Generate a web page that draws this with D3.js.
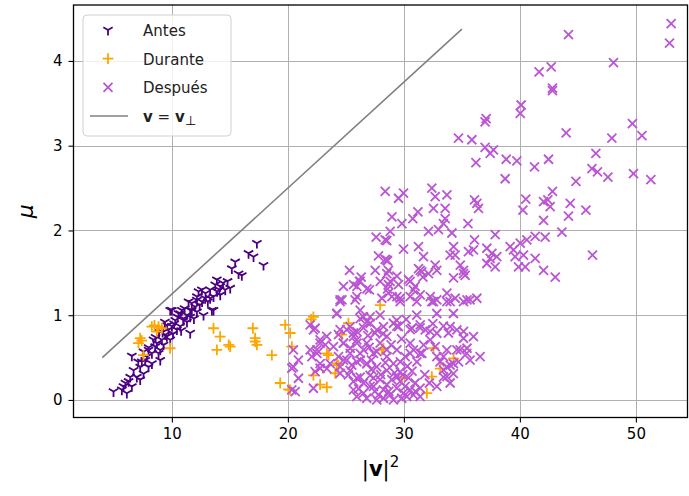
<!DOCTYPE html>
<html>
<head>
<meta charset="utf-8">
<script src="https://cdn.jsdelivr.net/npm/d3@7/dist/d3.min.js"></script>
<style>
  body { margin: 0; background: #fff; }
  svg { display: block; font-family: "DejaVu Sans", sans-serif; }
</style>
</head>
<body>
<svg id="chart" width="689" height="496"></svg>
<script>
// values, [|v|^2, mu]
const antes = [
  [4.97,0.10],[5.83,0.16],[6.12,0.08],[5.69,0.12],[6.41,0.27],[6.27,0.22],[6.55,0.16],[6.55,0.52],
  [6.7,0.35],[6.98,0.27],[7.27,0.39],[7.27,0.24],[7.56,0.31],[7.41,0.45],[7.7,0.47],[7.84,0.51],
  [7.56,0.57],[7.99,0.59],[7.99,0.39],[8.28,0.55],[8.28,0.43],[8.42,0.71],[8.56,0.63],[8.71,0.67],
  [8.85,0.55],[9.0,0.59],[9.0,0.47],[9.14,0.71],[9.28,0.65],[9.43,0.77],[9.57,0.75],[9.71,0.83],
  [9.86,0.71],[10.0,0.87],[10.0,1.06],[9.86,1.06],[10.29,0.94],[10.43,0.83],[10.57,1.02],[10.72,0.87],
  [10.72,1.02],[10.86,1.06],[11.0,0.96],[11.0,0.94],[11.29,1.0],[11.44,1.16],[11.58,0.79],[11.58,0.98],
  [11.58,1.06],[11.72,1.06],[11.72,1.14],[12.01,1.1],[12.16,1.22],[12.16,1.18],[12.16,1.04],[12.3,1.28],
  [12.59,1.30],[12.73,1.0],[12.87,1.2],[13.3,1.30],[13.45,1.06],[13.59,1.22],[13.59,1.06],[13.74,1.36],
  [13.88,1.42],[14.17,1.34],[14.17,1.24],[14.6,1.30],[15.03,1.32],[15.17,1.55],[15.46,1.63],[15.75,1.49],
  [16.03,1.47],[16.61,1.73],[17.04,1.69],[17.33,1.85],[17.9,1.59],
  [8.0,0.62],[8.6,0.74],[9.2,0.8],[9.6,0.88],[10.2,0.9],[10.5,0.98],[11.1,1.08],[11.3,0.92],
  [12.4,1.12],[12.9,1.26],[13.1,1.16],[13.9,1.28],[14.4,1.38],[14.8,1.4],[10.1,0.78],[8.9,0.8],
  [7.1,0.45],[6.0,0.2],[9.4,0.92],[10.8,0.82],[12.6,1.16],[13.3,1.2],[14.1,1.3],[11.9,0.96]
];

const durante = [
  [8.27,0.865],[8.85,0.865],[9.14,0.846],[8.7,0.806],[8.5,0.88],[7.27,0.73],[7.12,0.67],[7.4,0.7],
  [7.55,0.53],[9.85,0.61],[13.59,0.846],[14.16,0.747],[13.88,0.59],[14.9,0.65],[15.03,0.63],[16.98,0.846],
  [17.18,0.73],[17.18,0.69],[17.33,0.65],[18.62,0.53],[19.34,0.20],[19.77,0.885],[20.2,0.79],[20.34,0.63],
  [22.2,0.98],[23.36,0.55],[22.2,0.29],[20.05,0.126],[22.78,0.18],[23.36,0.15],[25.22,0.905],[20.2,0.118],
  [23.5,0.53],[24.36,0.41],[27.96,1.12],[28.24,0.61],[32.55,0.61],[34.28,0.49],[33.13,0.37],[32.41,0.275],
  [29.83,0.256],[31.98,0.08],[24.65,0.77],[24.22,0.43],[24.08,0.315],[28.1,0.59],[22.0,0.95]
];

const despues = [
  // upper region
  [53.04,4.44],[52.9,4.21],[44.19,4.31],[48.07,3.98],[41.66,3.87],[42.7,3.93],[42.81,3.68],[42.81,3.65],
  [40.11,3.48],[40.03,3.38],[37.09,3.32],[37.0,3.28],[43.99,3.15],[47.93,3.09],[49.7,3.26],[50.52,3.12],
  [34.71,3.09],[35.86,3.07],[37.0,2.98],[37.72,2.95],[37.44,2.91],[36.21,2.80],[38.82,2.84],[39.74,2.82],
  [41.26,2.75],[42.47,2.84],[38.73,2.61],[46.55,2.91],[46.21,2.73],[46.69,2.69],[47.59,2.63],[49.79,2.67],
  [51.29,2.60],[44.83,2.58],[42.81,2.46],[44.34,2.32],[45.69,2.24],[44.19,2.17],[43.62,1.98],[46.26,1.71],
  [42.04,2.12],[40.51,2.37],[40.26,2.24],[42.04,2.34],[42.41,2.36],[42.61,2.28],[28.39,2.46],[29.54,2.38],
  [29.97,2.44],[28.97,2.16],[29.83,2.08],[28.82,1.99],[28.39,1.89],[32.41,2.50],[32.7,2.40],[33.71,2.42],
  [32.55,2.26],[33.56,2.26],[33.56,2.14],[33.41,2.08],[31.21,2.22],[30.77,2.14],[32.12,1.99],[32.98,2.01],
  [34.14,1.97],[35.52,2.08],[36.09,2.36],[36.43,2.26],[36.29,2.32],[36.09,1.89],[37.87,1.95],[29.97,1.78],
  [31.26,1.81],[31.69,1.69],[34.28,1.81],[34.42,1.71],[35.57,1.75],[36.0,1.77],[37.15,1.79],[37.59,1.73],
  [38.01,1.69],[37.44,1.67],[39.16,1.81],[39.45,1.77],[40.03,1.85],[40.6,1.89],[41.32,1.93],[42.18,1.92],
  [39.59,1.69],[40.31,1.71],[41.32,1.67],[39.88,1.57],[40.46,1.57],[42.04,1.53],[43.05,1.45],[34.86,1.59],
  [35.14,1.53],[32.7,1.59],[32.84,1.53],[31.26,1.55],[31.55,1.51],[28.53,1.65],[28.67,1.53],[37.15,1.61],
  [37.87,1.57],
  // middle region
  [27.61,1.92],[28.53,1.88],[27.81,1.70],[28.59,1.64],[28.39,1.66],[25.31,1.53],[27.53,1.53],[28.53,1.49],
  [29.4,1.46],[26.32,1.45],[26.17,1.40],[25.66,1.36],[26.81,1.31],[24.79,1.34],[24.66,1.18],[25.95,1.22],
  [25.8,1.18],[27.03,1.30],[27.96,1.40],[28.67,1.36],[28.59,1.31],[30.54,1.40],[30.97,1.34],[31.41,1.53],
  [31.64,1.45],[32.12,1.49],[35.28,1.47],[28.1,1.20],[28.97,1.22],[29.68,1.20],[30.54,1.22],[31.41,1.24],
  [32.41,1.16],[33.71,1.26],[34.42,1.20],[35.44,1.18],[36.29,1.20],
  // lower cluster
  [26.23,1.40],[25.95,1.34],[24.5,1.18],[28.82,1.40],[29.54,1.36],[28.67,1.26],[29.4,1.22],[30.4,1.42],
  [30.82,1.30],[33.99,1.71],[35.14,1.49],[34.28,1.44],[32.27,1.22],[32.84,1.18],[33.99,1.16],[35.71,1.18],
  [24.22,1.02],[26.23,1.06],[26.52,0.98],[26.81,0.92],[21.92,0.885],[22.35,0.846],[24.5,0.83],[24.36,0.77],
  [25.37,0.865],[25.95,0.806],[25.66,0.747],[27.1,0.905],[27.67,0.826],[28.24,0.865],[29.1,0.905],[29.54,0.865],
  [30.69,0.846],[31.41,0.885],[31.84,0.826],[32.84,0.787],[33.99,0.865],[34.57,0.826],[35.14,0.728],[36.0,0.747],
  [32.27,0.708],[32.7,0.63],[24.79,0.67],[25.37,0.61],[25.95,0.67],[26.52,0.59],[22.78,0.708],[23.22,0.649],
  [22.5,0.59],[20.48,0.59],[22.07,0.51],[20.91,0.47],[21.92,0.59],[22.78,0.43],[23.36,0.37],[20.48,0.39],
  [20.91,0.256],[20.34,0.118],[24.36,0.51],[25.08,0.47],[25.51,0.41],[26.23,0.47],[26.81,0.43],[24.5,0.315],
  [25.22,0.295],[25.95,0.256],[27.67,0.57],[28.53,0.51],[29.4,0.59],[30.11,0.51],[30.82,0.59],[31.55,0.55],
  [31.12,0.45],[33.41,0.51],[33.99,0.41],[34.71,0.45],[35.71,0.47],[36.57,0.51],[34.57,0.59],[35.44,0.61],
  [33.41,0.354],[33.71,0.275],
  [24.5,1.16],[29.68,1.16],[31.11,1.16],[32.55,1.16],[33.7,1.16],[35.14,1.16],
  [24.22,1.02],[26.23,0.96],[27.09,0.98],[27.95,1.0],[29.39,0.94],[31.11,1.0],[32.84,1.02],[34.27,1.02],
  [23.35,0.75],[25.08,0.83],[25.65,0.79],[26.52,0.85],[27.52,0.79],[28.53,0.75],[29.39,0.87],[30.54,0.83],
  [31.4,0.85],[32.26,0.81],[33.41,0.87],[33.84,0.79],[35.14,0.81],
  [23.93,0.63],[24.79,0.67],[25.94,0.71],[26.8,0.67],[27.95,0.67],[28.53,0.59],[27.38,0.55],[26.23,0.55],
  [25.37,0.55],[24.79,0.47],[30.54,0.67],[31.4,0.55],[30.54,0.55],[32.84,0.51],[33.7,0.59],[34.85,0.59],
  [35.42,0.55],
  [23.64,0.43],[24.5,0.39],[25.37,0.35],[25.94,0.45],[26.8,0.43],[27.66,0.39],[28.53,0.35],[29.1,0.43],
  [29.68,0.33],[26.23,0.27],[27.09,0.29],[27.95,0.24],[25.65,0.22],[33.12,0.45],[33.7,0.39],[34.27,0.43],
  [33.41,0.27],[34.27,0.31],[32.84,0.16],[33.99,0.2],
  [25.65,0.12],[26.52,0.08],[27.38,0.16],[28.24,0.12],[28.81,0.06],[29.39,0.14],[29.96,0.08],[30.54,0.12],
  [31.4,0.14],[26.8,0.02],[27.66,0.0],[29.1,0.0],[30.25,0.04],[31.4,0.04],[25.94,0.04],
  [27.09,0.16],[27.81,0.06],[28.53,0.18],[28.96,0.24],[29.68,0.22],[30.11,0.16],[30.83,0.06],[28.24,0.02],
  [29.82,0.02],[27.38,0.26],[26.52,0.2],[30.97,0.2],[29.39,0.27],
  [27.5,0.1],[28.0,0.3],[28.7,0.1],[29.2,0.32],[29.9,0.3],[30.4,0.26],[30.7,0.34],[27.2,0.36],
  [26.1,0.13],[31.0,0.1],[28.4,0.44],[29.7,0.45],[27.2,0.47],[30.3,0.4],[31.8,0.3],[32.2,0.2],
  [27.0,0.62],[28.9,0.65],[29.8,0.72],[28.2,0.78],[26.9,0.76],[30.2,0.95],[31.7,0.65],[32.5,0.9],
  // left edge of the cluster
  [22.2,0.826],[22.78,0.67],[22.5,0.55],[20.34,0.374],[22.35,0.334],[22.78,0.374],[20.63,0.098],[22.2,0.138]
];

// reference line mu = |v|^2 / 8
const lineX = [4, 35];
const lineY = [0.5, 4.375];

const xTicks = [10, 20, 30, 40, 50];
const yTicks = [0, 1, 2, 3, 4];

const legendItems = [
  { key: 'antes', label: 'Antes', color: '#4b0082' },
  { key: 'durante', label: 'Durante', color: '#ffa500' },
  { key: 'despues', label: 'Después', color: '#ba55d3' }
];

const box = { left: 73.5, right: 687.5, top: 5, bottom: 417.5 };
const svg = d3.select('#chart');

const x = d3.scaleLinear().domain([1.52, 54.45]).range([box.left, box.right]);
const y = d3.scaleLinear().domain([-0.207, 4.66]).range([box.bottom, box.top]);

// grid
const grid = svg.append('g').attr('stroke', '#b0b0b0').attr('stroke-width', 1);
grid.selectAll('.gx').data(xTicks).join('line')
  .attr('x1', (d) => Math.round(x(d)) + 0.5).attr('x2', (d) => Math.round(x(d)) + 0.5)
  .attr('y1', box.top).attr('y2', box.bottom);
grid.selectAll('.gy').data(yTicks).join('line')
  .attr('class', 'gy')
  .attr('y1', (d) => Math.round(y(d)) + 0.5).attr('y2', (d) => Math.round(y(d)) + 0.5)
  .attr('x1', box.left).attr('x2', box.right);

// markers
const markerPath = {
  antes: (r) => `M0,0L0,${r}M0,0L${-r * 0.866},${-r * 0.5}M0,0L${r * 0.866},${-r * 0.5}`,
  durante: (r) => `M${-r},0L${r},0M0,${-r}L0,${r}`,
  despues: (r) => `M${-r},${-r}L${r},${r}M${-r},${r}L${r},${-r}`
};
const markerSize = { antes: 5.4, durante: 5.4, despues: 4.5 };
const seriesData = { antes, durante, despues };

const plot = svg.append('g');
legendItems.forEach((item) => {
  plot.append('g').selectAll('path').data(seriesData[item.key]).join('path')
    .attr('transform', (d) => `translate(${x(d[0])},${y(d[1])})`)
    .attr('d', markerPath[item.key](markerSize[item.key]))
    .attr('fill', 'none')
    .attr('stroke', item.color)
    .attr('stroke-width', 1.8);
});

plot.append('path')
  .datum(d3.zip(lineX, lineY))
  .attr('d', d3.line().x((d) => x(d[0])).y((d) => y(d[1])))
  .attr('fill', 'none')
  .attr('stroke', '#808080')
  .attr('stroke-width', 1.6);

// axes
const xAxis = svg.append('g')
  .attr('transform', `translate(0,${box.bottom})`)
  .call(d3.axisBottom(x).tickValues(xTicks).tickSize(5).tickPadding(6).tickFormat(d3.format('d')));
const yAxis = svg.append('g')
  .attr('transform', `translate(${box.left},0)`)
  .call(d3.axisLeft(y).tickValues(yTicks).tickSize(5).tickPadding(6).tickFormat(d3.format('d')));
[xAxis, yAxis].forEach((a) => {
  a.select('.domain').remove();
  a.selectAll('text').attr('font-size', 15).attr('fill', '#000').attr('font-family', '"DejaVu Sans", sans-serif');
  a.selectAll('line').attr('stroke', '#000').attr('stroke-width', 1.1);
});

svg.append('rect')
  .attr('x', box.left).attr('y', box.top)
  .attr('width', box.right - box.left).attr('height', box.bottom - box.top)
  .attr('fill', 'none').attr('stroke', '#000').attr('stroke-width', 1.3);

// axis labels
const xl = svg.append('text')
  .attr('x', (box.left + box.right) / 2).attr('y', 476)
  .attr('text-anchor', 'middle').attr('font-size', 21);
xl.append('tspan').text('|');
xl.append('tspan').attr('font-weight', 'bold').text('v');
xl.append('tspan').text('|');
xl.append('tspan').attr('font-size', 15).attr('dy', -9).text('2');

svg.append('text')
  .attr('transform', `translate(33,${(box.top + box.bottom) / 2}) rotate(-90)`)
  .attr('text-anchor', 'middle')
  .attr('font-size', 22).attr('font-style', 'italic')
  .text('μ');

// legend
const legend = svg.append('g').attr('transform', 'translate(83,15)');
legend.append('rect')
  .attr('width', 148).attr('height', 121).attr('rx', 4)
  .attr('fill', '#fff').attr('fill-opacity', 0.8)
  .attr('stroke', '#d0d0d0').attr('stroke-width', 1);

const rowY = d3.scalePoint().domain([...legendItems.map((d) => d.key), 'line']).range([15, 101]);
legendItems.forEach((item) => {
  legend.append('path')
    .attr('transform', `translate(25,${rowY(item.key)})`)
    .attr('d', markerPath[item.key](markerSize[item.key]))
    .attr('fill', 'none').attr('stroke', item.color).attr('stroke-width', 1.8);
  legend.append('text')
    .attr('x', 60).attr('y', rowY(item.key) + 6)
    .attr('font-size', 15).attr('fill', '#222')
    .text(item.label);
});
legend.append('line')
  .attr('x1', 7).attr('x2', 45)
  .attr('y1', rowY('line')).attr('y2', rowY('line'))
  .attr('stroke', '#808080').attr('stroke-width', 1.6);
const lt = legend.append('text')
  .attr('x', 60).attr('y', rowY('line') + 6)
  .attr('font-size', 15).attr('fill', '#222');
lt.append('tspan').attr('font-weight', 'bold').text('v');
lt.append('tspan').text(' = ');
lt.append('tspan').attr('font-weight', 'bold').text('v');
lt.append('tspan').attr('font-size', 13).attr('dy', 3)
  .style('font-family', '"Liberation Sans", sans-serif').style('fill', '#000').text('⊥');
</script>
</body>
</html>
